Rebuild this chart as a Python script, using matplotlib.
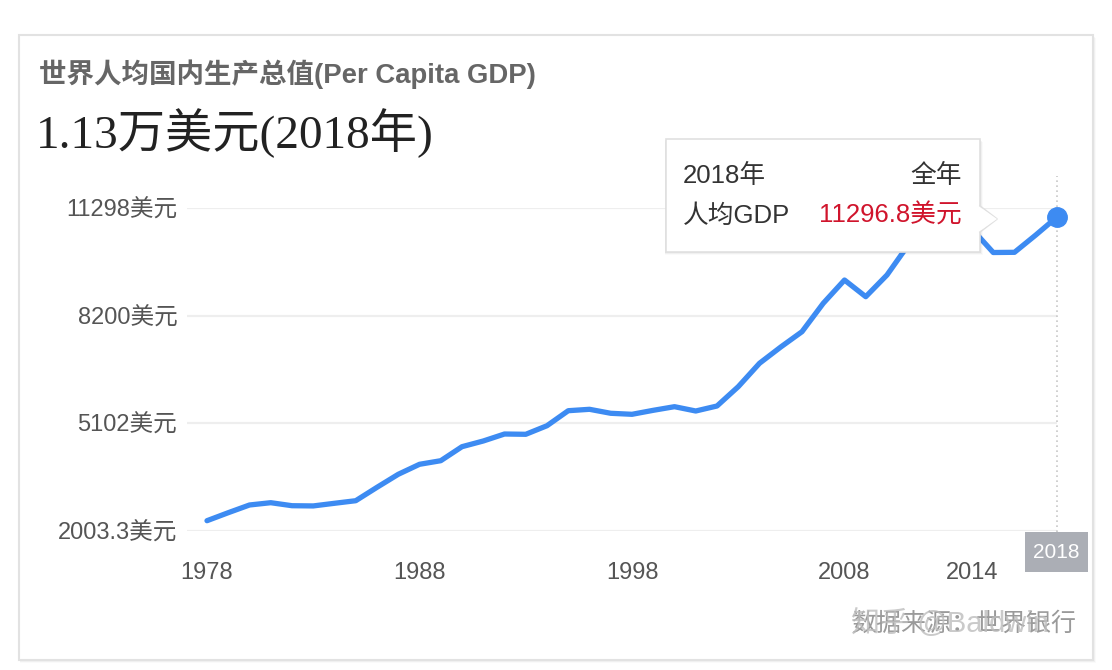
import matplotlib
matplotlib.use("Agg")
import matplotlib.pyplot as plt
from matplotlib.patches import Rectangle, Polygon
from matplotlib.lines import Line2D
import numpy as np

# ---------------- data ----------------
years = list(range(1978, 2019))
gdp = [2003.3, 2248, 2484, 2554, 2462, 2455, 2536, 2615, 3025, 3423,
       3729, 3839, 4268, 4442, 4656, 4647, 4910, 5369, 5412, 5290,
       5259, 5381, 5492, 5360, 5513, 6104, 6820, 7318, 7787, 8656,
       9368, 8858, 9522, 10440, 10654, 10806, 10929, 10210, 10216, 10745,
       11296.8]
x_ticks = [1978, 1988, 1998, 2008, 2014]
x_highlight = 2018
y_tick_labels = ["2003.3美元", "5102美元", "8200美元", "11298美元"]
title = "世界人均国内生产总值(Per Capita GDP)"
headline = "1.13万美元(2018年)"
tip_year = "2018年"
tip_period = "全年"
tip_name = "人均GDP"
tip_value = "11296.8美元"
source_text = "数据来源：世界银行"
watermark = "知乎 @Baldwin"

SANS = ["Liberation Sans", "Noto Sans CJK SC"]
SERIF = ["Liberation Serif", "Noto Sans CJK SC"]
plt.rcParams["font.family"] = SANS

W, H = 1112, 670
fig = plt.figure(figsize=(W / 100, H / 100), dpi=100)
fig.patch.set_facecolor("white")


def fx(x):
    return x / W


def fy(y):
    return 1 - y / H


def frect(x0, y0, x1, y1, **kw):
    return Rectangle((fx(x0), fy(y1)), fx(x1) - fx(x0), fy(y0) - fy(y1),
                     transform=fig.transFigure, **kw)


# ---------------- card ----------------
for i, a in enumerate([0.05, 0.035, 0.02]):
    fig.patches.append(frect(19 + 1, 35 + 1 + i, 1093 + 1 + i, 660 + 1 + i,
                             facecolor="black", alpha=a, edgecolor="none", zorder=0))
fig.patches.append(frect(19, 35, 1093, 660, facecolor="white",
                         edgecolor="#e2e2e2", lw=1.5, zorder=1))

fig.text(fx(39), fy(74), title, fontsize=19.8, fontweight="bold",
         color="#666666", ha="left", va="center", family=SANS)
fig.text(fx(36), fy(133), headline, fontsize=34, color="#222222",
         ha="left", va="center", family=SERIF)

# ---------------- axes ----------------
ax_left, ax_right, ax_bottom, ax_top = 187, 1057, 531, 208
ax = fig.add_axes([fx(ax_left), fy(ax_bottom), fx(ax_right) - fx(ax_left),
                   fy(ax_top) - fy(ax_bottom)])
ax.set_facecolor("none")
ax.set_zorder(2)
ax.set_xlim(1978 - 20 / 21.25, 2018)
ax.set_ylim(1688, 11572)
for s in ax.spines.values():
    s.set_visible(False)

yt = np.linspace(1688, 11572, len(y_tick_labels))
ax.set_yticks(yt)
ax.set_yticklabels(y_tick_labels)
ax.set_xticks(x_ticks)
ax.set_xticklabels([str(v) for v in x_ticks])
ax.tick_params(axis="y", length=0, pad=7, labelsize=17, labelcolor="#555555")
ax.tick_params(axis="x", length=0, pad=22, labelsize=17, labelcolor="#555555")
ax.grid(axis="y", color="#eeeeee", lw=1.6)
ax.grid(axis="x", visible=False)
ax.set_axisbelow(True)

ax.axvline(x_highlight, ymin=-0.003, ymax=1.10, clip_on=False, ls=(0, (1, 2)),
           color="#c8c8c8", lw=1.2, zorder=1)

ax.plot(years, gdp, color="#3d8bf2", lw=3.8, solid_joinstyle="round",
        solid_capstyle="round", clip_on=False, zorder=3)
ax.plot([years[-1]], [gdp[-1]], "o", ms=14, color="#3d8bf2", clip_on=False, zorder=4)

# highlighted 2018 label box
fig.patches.append(frect(1025, 532, 1088, 572, facecolor="#abaeb5",
                         edgecolor="none", zorder=5))
fig.text(fx(1056.5), fy(552), str(x_highlight), fontsize=15, color="white",
         ha="center", va="center", zorder=6)

# ---------------- tooltip ----------------
tx0, ty0, tx1, ty1 = 666, 139, 980, 252
for i, a in enumerate([0.06, 0.04, 0.02]):
    fig.patches.append(frect(tx0 - 1, ty0 + 1 + i, tx1 + 1 + i, ty1 + 1 + i,
                             facecolor="black", alpha=a, edgecolor="none", zorder=7))
fig.patches.append(frect(tx0, ty0, tx1, ty1, facecolor="white",
                         edgecolor="#e0e0e0", lw=1.2, zorder=8))
arrow = [(fx(978.5), fy(206)), (fx(997), fy(219)), (fx(978.5), fy(232))]
fig.patches.append(Polygon(arrow, closed=True, facecolor="white", edgecolor="none",
                           transform=fig.transFigure, zorder=9))
fig.lines.append(Line2D([fx(980), fx(997), fx(980)], [fy(206), fy(219), fy(232)],
                        color="#e0e0e0", lw=1.2, transform=fig.transFigure, zorder=9))

fig.text(fx(683), fy(176), tip_year, fontsize=18.5, color="#333333",
         ha="left", va="center", zorder=10)
fig.text(fx(962), fy(176), tip_period, fontsize=18.5, color="#333333",
         ha="right", va="center", zorder=10)
fig.text(fx(683), fy(216), tip_name, fontsize=18.5, color="#333333",
         ha="left", va="center", zorder=10)
fig.text(fx(962), fy(216), tip_value, fontsize=18.5, color="#d0142c",
         ha="right", va="center", zorder=10)

# ---------------- source / watermark ----------------
fig.text(fx(851), fy(624), source_text, fontsize=18, color="#9a9a9a",
         ha="left", va="center", zorder=10)
fig.text(fx(851), fy(624), watermark, fontsize=21, color="#bdbdbd", alpha=0.8,
         ha="left", va="center", zorder=11, fontweight="light")

fig.savefig("out.png", dpi=100, facecolor="white")
